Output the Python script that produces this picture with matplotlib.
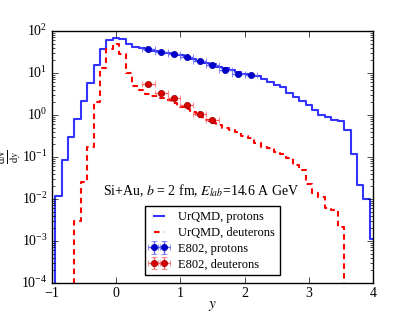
import numpy as np
import matplotlib
matplotlib.use('Agg')
import matplotlib.pyplot as plt

plt.style.use('classic')
matplotlib.rcParams.update({'font.family': 'serif',
                            'font.serif': ['Liberation Serif', 'DejaVu Serif'],
                            'mathtext.fontset': 'stix',
                            'font.size': 10})

# UrQMD histograms, bin centres (width 0.1)
y_bins = [-1.0, -0.9, -0.8, -0.7, -0.6, -0.5, -0.4, -0.3, -0.2, -0.1,
          0.0, 0.1, 0.2, 0.3, 0.4, 0.5, 0.6, 0.7, 0.8, 0.9,
          1.0, 1.1, 1.2, 1.3, 1.4, 1.5, 1.6, 1.7, 1.8, 1.9,
          2.0, 2.1, 2.2, 2.3, 2.4, 2.5, 2.6, 2.7, 2.8, 2.9,
          3.0, 3.1, 3.2, 3.3, 3.4, 3.5, 3.6, 3.7, 3.8, 3.9,
          4.0, 4.1]
urqmd_p = [0, 0.012, 0.085, 0.30, 0.78, 2.15, 5.7, 15.5, 37, 61,
           69, 64, 49, 41, 39, 36, 34, 32, 30, 28,
           26, 23.5, 21.5, 19.5, 17.5, 16, 14, 12.8, 11.5, 10.3,
           9.5, 9.0, 8.5, 7.1, 6.1, 5.2, 4.5, 3.3, 2.6, 2.15,
           1.7, 1.32, 1.0, 0.91, 0.76, 0.73, 0.44, 0.116, 0.021, 0.01,
           0.0011, 0]
urqmd_d = [0, 0, 0, 0, 0.003, 0.025, 0.17, 2.0, 13.4, 37,
           48, 28, 10, 5.0, 3.9, 3.1, 2.75, 2.5, 2.3, 1.9,
           1.55, 1.37, 1.2, 0.9, 0.76, 0.65, 0.58, 0.48, 0.44, 0.40,
           0.32, 0.29, 0.22, 0.17, 0.16, 0.13, 0.115, 0.095, 0.065, 0.048,
           0.023, 0.014, 0.011, 0.006, 0.0055, 0.0022, 0, 0, 0, 0,
           0, 0]

# E802 data
y_p = [0.5, 0.7, 0.9, 1.1, 1.3, 1.5, 1.7, 1.9, 2.1]
dndy_p = [37, 32, 28.3, 23.8, 19.0, 15.1, 12.0, 9.6, 8.8]
err_p = [1.5, 1.3, 1.1, 1.0, 0.8, 0.7, 0.6, 0.5, 0.5]
y_d = [0.5, 0.7, 0.9, 1.1, 1.3, 1.5]
dndy_d = [5.4, 3.3, 2.47, 1.68, 1.07, 0.77]
err_d = [0.4, 0.25, 0.2, 0.13, 0.09, 0.07]
xerr = 0.1

fig = plt.figure(figsize=(4.15, 3.12), dpi=100)
ax = fig.add_axes([0.125, 0.093, 0.774, 0.808])

ax.step(y_bins, urqmd_p, where='mid', color='b', lw=1.5, alpha=0.8,
        label='UrQMD, protons')
ax.step(y_bins, urqmd_d, where='mid', color='r', lw=1.5, ls='--',
        dashes=(4, 3), label='UrQMD, deuterons')
ax.errorbar(y_p, dndy_p, xerr=xerr, yerr=err_p, fmt='o', color='#0000cc',
            mec='#0000aa', ms=4.5, ecolor='#6060ff', capsize=2, elinewidth=1,
            label='E802, protons')
ax.errorbar(y_d, dndy_d, xerr=xerr, yerr=err_d, fmt='o', color='#dd0000',
            mec='#880000', ms=4.5, ecolor='#ff6060', capsize=2, elinewidth=1,
            label='E802, deuterons')

ax.set_yscale('log')
ax.set_xlim(-1, 4)
ax.set_ylim(1e-4, 1e2)
ax.set_xticks([-1, 0, 1, 2, 3, 4])
ax.tick_params(labelsize=10, pad=3)
ax.set_xlabel(r'$y$', fontsize=11, labelpad=-1)
ax.set_ylabel(r'$\frac{\mathrm{d}N}{\mathrm{d}y}$', fontsize=11, labelpad=-1)

ax.text(-0.2, 10**-1.8, r'Si+Au, $b$ = 2 fm, $E_{lab}$=14.6 A GeV', fontsize=10,
        va='center')

ax.legend(loc='lower center', bbox_to_anchor=(0.5, 0.005), fontsize=9,
          numpoints=2, labelspacing=0.3, handlelength=1.4, handletextpad=0.8,
          borderpad=0.4, frameon=True)

plt.savefig('out.png', dpi=100, facecolor='white')
